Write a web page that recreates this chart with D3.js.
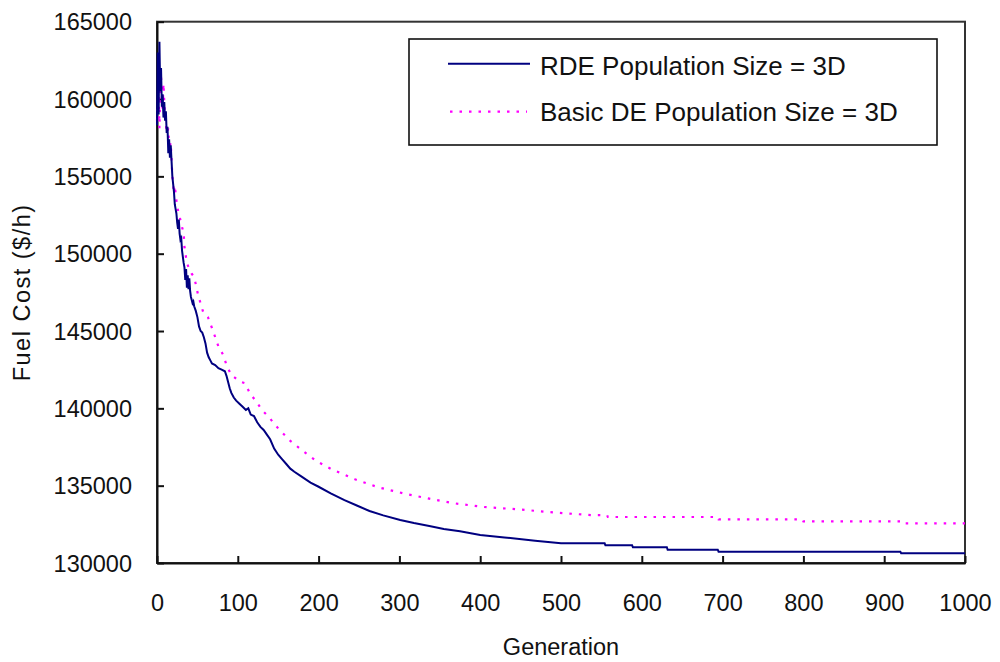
<!DOCTYPE html>
<html>
<head>
<meta charset="utf-8">
<script src="https://cdn.jsdelivr.net/npm/d3@7"></script>
<style>
  html, body { margin: 0; padding: 0; background: #ffffff; }
  svg { display: block; }
  text { font-family: "Liberation Sans", Arial, sans-serif; fill: #111; }
</style>
</head>
<body>
<svg id="chart" width="1000" height="662"></svg>
<script>
// Convergence of fuel cost over generations for two DE variants
const rdeGen = [0,1,2,3,4,5,6,7,8,9,10,11,12,13,14,15,16,17,18,19,20,21,22,23,24,25,26,27,28,29,30,31,32,33,34,35,36,37,38,39,40,41,42,43,44,45,46,48,50,52,54,56,58,60,62,64,66,68,72,76,80,84,86,88,90,92,95,98,102,106,110,113,116,120,124,128,132,136,140,145,150,155,160,165,170,179,190,200,215,232,248,263,280,301,318,337,355,375,400,430,468,500,554,555,588,589,631,632,694,695,920,921,1000];
const rdeCost = [158300,163000,159000,163700,160500,162000,159500,160300,158800,159800,158600,159200,157800,158200,156500,157400,156200,157000,156000,155000,154500,154000,153200,152900,152600,152000,151600,152200,151300,150900,151000,150200,149800,149400,149100,148300,149000,147800,148600,147700,148400,147600,147200,147000,146800,146900,146600,146300,145900,145300,145000,144900,144600,144200,143600,143300,143100,142900,142800,142600,142500,142400,142100,141700,141300,141000,140700,140500,140300,140100,139900,140000,139600,139500,139100,138800,138600,138300,138000,137400,137000,136700,136400,136100,135900,135580,135200,134930,134500,134070,133700,133360,133080,132780,132580,132390,132200,132050,131810,131650,131440,131270,131270,131140,131140,131015,131015,130860,130860,130730,130730,130630,130630];

const basicGen = [0,1,2,3,4,5,6,7,8,9,10,12,14,15,17,19,21,22,25,28,31,33,34,37,40,43,46,51,57,63,69,76,82,86,92,103,109,115,123,130,138,150,165,179,197,216,245,274,305,337,368,405,447,495,537,557,558,694,695,799,800,920,921,1000];
const basicCost = [158600,159500,161200,158100,160500,161500,160000,159200,161000,159800,158900,157800,158100,156700,157200,155000,153900,154400,153000,152400,151700,151380,150400,149400,149000,148700,148500,147300,146250,145900,145060,144000,143450,142800,142150,141720,141620,140970,140430,139890,139460,138700,137900,137310,136600,136060,135410,134890,134500,134160,133860,133620,133470,133250,133100,133100,132975,132975,132825,132825,132695,132695,132567,132567];

const xTicks = [0,100,200,300,400,500,600,700,800,900,1000];
const yTicks = [130000,135000,140000,145000,150000,155000,160000,165000];
const seriesNames = ["RDE Population Size = 3D", "Basic DE Population Size = 3D"];
const xTitle = "Generation";
const yTitle = "Fuel Cost ($/h)";

const svg = d3.select("#chart");
const plot = { left: 157, right: 965, top: 21.7, bottom: 563 };

const x = d3.scaleLinear().domain([0, 1000]).range([plot.left, plot.right]);
const y = d3.scaleLinear().domain([130000, 165000]).range([plot.bottom, plot.top]);

svg.append("rect").attr("width", 1000).attr("height", 662).attr("fill", "#fff");

// plot frame
svg.append("rect")
  .attr("x", plot.left).attr("y", plot.top)
  .attr("width", plot.right - plot.left).attr("height", plot.bottom - plot.top)
  .attr("fill", "none").attr("stroke", "#333").attr("stroke-width", 2);

// axes with inward ticks
const xAxis = svg.append("g").attr("transform", `translate(0,${plot.bottom})`)
  .call(d3.axisBottom(x).tickValues(xTicks).tickSizeInner(-7).tickSizeOuter(0).tickPadding(24).tickFormat(d3.format("d")));
const yAxis = svg.append("g").attr("transform", `translate(${plot.left},0)`)
  .call(d3.axisLeft(y).tickValues(yTicks).tickSizeInner(-7).tickSizeOuter(0).tickPadding(25).tickFormat(d3.format("d")));

[xAxis, yAxis].forEach(a => {
  a.select(".domain").attr("stroke", "#111").attr("stroke-width", 2);
  a.selectAll(".tick line").attr("stroke", "#111").attr("stroke-width", 2);
  a.selectAll(".tick text").attr("font-size", 23.5).attr("fill", "#111")
    .style("font-family", "'Liberation Sans', Arial, sans-serif");
});
xAxis.selectAll(".tick text").attr("dy", null).attr("y", 0).attr("dominant-baseline", "middle")
  .attr("transform", `translate(0,${604.7 - plot.bottom})`);
yAxis.selectAll(".tick text").attr("dy", "0.35em").attr("x", 132 - plot.left);

// axis titles
svg.append("text").attr("x", (plot.left + plot.right) / 2).attr("y", 655)
  .attr("text-anchor", "middle").attr("font-size", 23.5).text(xTitle);
svg.append("text").attr("transform", `translate(30,${(plot.top + plot.bottom) / 2}) rotate(-90)`)
  .attr("text-anchor", "middle").attr("font-size", 23.5).attr("letter-spacing", 1.5).text(yTitle);

// series
const line = d3.line().x(d => x(d[0])).y(d => y(d[1])).curve(d3.curveLinear);
const basicData = basicGen.map((g, i) => [g, basicCost[i]]);
const rdeData = rdeGen.map((g, i) => [g, rdeCost[i]]);

svg.append("path").datum(basicData).attr("d", line)
  .attr("fill", "none").attr("stroke", "#ff00ff").attr("stroke-width", 2.2)
  .attr("stroke-dasharray", "2.5,7");
svg.append("path").datum(rdeData).attr("d", line)
  .attr("fill", "none").attr("stroke", "#000080").attr("stroke-width", 2)
  .attr("stroke-linejoin", "miter");

// legend
const legend = svg.append("g");
legend.append("rect").attr("x", 409).attr("y", 39).attr("width", 528).attr("height", 106)
  .attr("fill", "#fff").attr("stroke", "#111").attr("stroke-width", 1.6);
legend.append("line").attr("x1", 448).attr("x2", 530).attr("y1", 63.7).attr("y2", 63.7)
  .attr("stroke", "#000080").attr("stroke-width", 2);
legend.append("line").attr("x1", 450).attr("x2", 527).attr("y1", 111.7).attr("y2", 111.7)
  .attr("stroke", "#ff00ff").attr("stroke-width", 2.2).attr("stroke-dasharray", "2.5,7");
legend.append("text").attr("x", 540).attr("y", 75).attr("font-size", 26).text(seriesNames[0]);
legend.append("text").attr("x", 540).attr("y", 121).attr("font-size", 26).text(seriesNames[1]);
</script>
</body>
</html>
